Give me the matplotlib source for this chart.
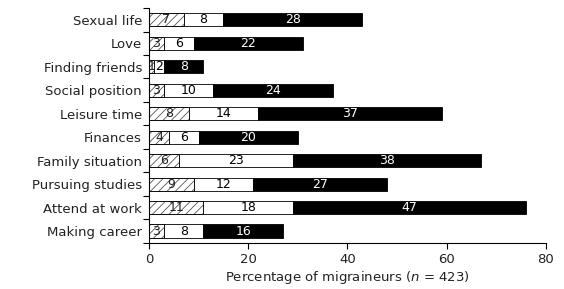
import matplotlib.pyplot as plt
import numpy as np

plt.rcParams['font.family'] = ['DejaVu Sans']
plt.rcParams['hatch.linewidth'] = 0.6

categories = ['Sexual life', 'Love', 'Finding friends', 'Social position', 'Leisure time',
              'Finances', 'Family situation', 'Pursuing studies', 'Attend at work', 'Making career']
hatched = [7, 3, 1, 3, 8, 4, 6, 9, 11, 3]
white = [8, 6, 2, 10, 14, 6, 23, 12, 18, 8]
black = [28, 22, 8, 24, 37, 20, 38, 27, 47, 16]

fig, ax = plt.subplots(figsize=(5.64, 2.89), dpi=100)
fig.subplots_adjust(left=0.264, right=0.968, top=0.972, bottom=0.16)

y = np.arange(len(categories))
h = 0.56
ax.barh(y, hatched, height=h, color='white', edgecolor='#555555', hatch='////', linewidth=0.6)
ax.barh(y, hatched, height=h, color='none', edgecolor='black', linewidth=0.6)
left2 = np.array(hatched)
ax.barh(y, white, height=h, left=left2, color='white', edgecolor='black', linewidth=0.6)
left3 = left2 + np.array(white)
ax.barh(y, black, height=h, left=left3, color='black', edgecolor='black', linewidth=0.6)

for i in range(len(categories)):
    ax.text(hatched[i] / 2, i, str(hatched[i]), ha='center', va='center', fontsize=9, color='#222222')
    ax.text(left2[i] + white[i] / 2, i, str(white[i]), ha='center', va='center', fontsize=9, color='black')
    ax.text(left3[i] + black[i] / 2, i, str(black[i]), ha='center', va='center', fontsize=9, color='white')

ax.set_xlim(0, 80)
ax.set_ylim(len(categories) - 0.5, -0.5)
ax.set_xticks([0, 20, 40, 60, 80])
ax.set_yticks(y)
ax.set_yticklabels(categories, fontsize=9.5, color='#222222')
ax.set_yticks(np.arange(-0.5, len(categories), 1), minor=True)
ax.tick_params(axis='y', which='major', length=0, pad=5)
ax.tick_params(axis='y', which='minor', length=4, width=0.8)
ax.tick_params(axis='x', labelsize=9.5, length=4, width=0.8, labelcolor='#222222')
ax.set_xlabel('Percentage of migraineurs ($n$ = 423)', fontsize=9.5, color='#222222', labelpad=2)

for s in ['top', 'right']:
    ax.spines[s].set_visible(False)
for s in ['left', 'bottom']:
    ax.spines[s].set_linewidth(0.8)

fig.savefig('out.png', dpi=100)
